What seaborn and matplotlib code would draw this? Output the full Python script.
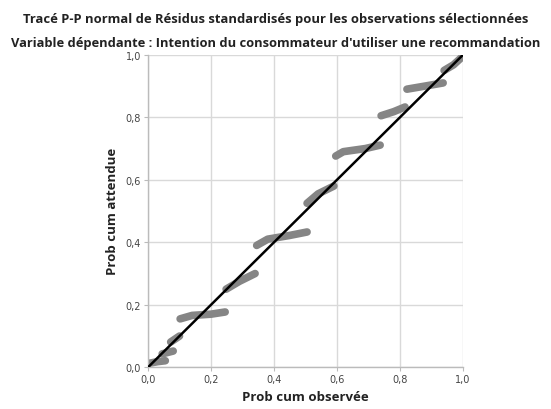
import numpy as np
import pandas as pd
import matplotlib
matplotlib.use("Agg")
import matplotlib.pyplot as plt
import seaborn as sns
from matplotlib.ticker import FuncFormatter

# Residual clusters: observed cumulative probability vs expected cumulative probability
cluster = [1, 1, 1,
           2, 2,
           3, 3,
           4, 4, 4, 4,
           5, 5, 5,
           6, 6, 6, 6,
           7, 7, 7,
           8, 8, 8, 8,
           9, 9, 9,
           10, 10, 10,
           11, 11, 11]
prob_observee = [0.000, 0.030, 0.055,
                 0.045, 0.080,
                 0.072, 0.100,
                 0.102, 0.140, 0.200, 0.245,
                 0.248, 0.290, 0.340,
                 0.345, 0.380, 0.450, 0.505,
                 0.505, 0.540, 0.590,
                 0.596, 0.620, 0.690, 0.737,
                 0.740, 0.780, 0.816,
                 0.822, 0.880, 0.937,
                 0.940, 0.970, 0.997]
prob_attendue = [0.012, 0.018, 0.021,
                 0.043, 0.052,
                 0.081, 0.100,
                 0.155, 0.166, 0.170, 0.177,
                 0.250, 0.275, 0.300,
                 0.390, 0.410, 0.422, 0.433,
                 0.525, 0.555, 0.580,
                 0.676, 0.690, 0.700, 0.711,
                 0.805, 0.818, 0.833,
                 0.890, 0.900, 0.910,
                 0.950, 0.968, 0.993]

diag_x = [0.0, 1.0]
diag_y = [0.0, 1.0]

titre_1 = "Tracé P-P normal de Résidus standardisés pour les observations sélectionnées"
titre_2 = "Variable dépendante : Intention du consommateur d'utiliser une recommandation"
label_x = "Prob cum observée"
label_y = "Prob cum attendue"

df = pd.DataFrame({"cluster": cluster, "obs": prob_observee, "att": prob_attendue})

sns.set_theme(style="white")
plt.rcParams["font.family"] = ["Open Sans", "DejaVu Sans"]

W, H = 551, 410
fig = plt.figure(figsize=(W / 100, H / 100), dpi=100)
ax = fig.add_axes([148 / W, (H - 368.3) / H, 315 / W, 312.5 / H])

sns.lineplot(data=df, x="obs", y="att", units="cluster", estimator=None, sort=False,
             color="#858585", linewidth=5.5, solid_capstyle="round", ax=ax, zorder=2)
sns.lineplot(x=diag_x, y=diag_y, color="black", linewidth=1.8, ax=ax, zorder=3)

ax.set_xlim(0, 1)
ax.set_ylim(0, 1)
ax.set_xlabel("")
ax.set_ylabel("")
ticks = [0.0, 0.2, 0.4, 0.6, 0.8, 1.0]
ax.set_xticks(ticks)
ax.set_yticks(ticks)
fmt = FuncFormatter(lambda v, p: f"{v:.1f}".replace(".", ","))
ax.xaxis.set_major_formatter(fmt)
ax.yaxis.set_major_formatter(fmt)
for lab in ax.get_xticklabels() + ax.get_yticklabels():
    lab.set_fontfamily("DejaVu Sans")
ax.tick_params(axis="both", labelsize=7, colors="#444444", length=3, width=0.8,
               color="#bbbbbb", pad=2)
ax.tick_params(axis="x", bottom=True)
ax.tick_params(axis="y", left=True)

ax.grid(True, color="#d9d9d9", linewidth=1)
ax.set_axisbelow(True)
for side in ["top", "right"]:
    ax.spines[side].set_visible(False)
for side in ["left", "bottom"]:
    ax.spines[side].set_color("#bbbbbb")
    ax.spines[side].set_linewidth(1)

fig.text(305 / W, 1 - 398 / H, label_x, ha="center", va="center", fontsize=9.5,
         fontweight="bold", color="#222222")
fig.text(113 / W, 1 - 211 / H, label_y, ha="center", va="center", fontsize=9.5,
         fontweight="bold", color="#222222", rotation=90)

t1 = fig.text(0.5, 1 - 20 / H, titre_1, ha="center", va="center", fontsize=9,
              fontweight="bold", color="#222222")
t2 = fig.text(0.5, 1 - 44 / H, titre_2, ha="center", va="center", fontsize=9,
              fontweight="bold", color="#222222")

# size the two title lines to their target widths in pixels
renderer = fig.canvas.get_renderer()
for t, target in [(t1, 505), (t2, 528)]:
    w = t.get_window_extent(renderer).width
    t.set_fontsize(9 * target / w)

fig.savefig("out.png", dpi=100)
